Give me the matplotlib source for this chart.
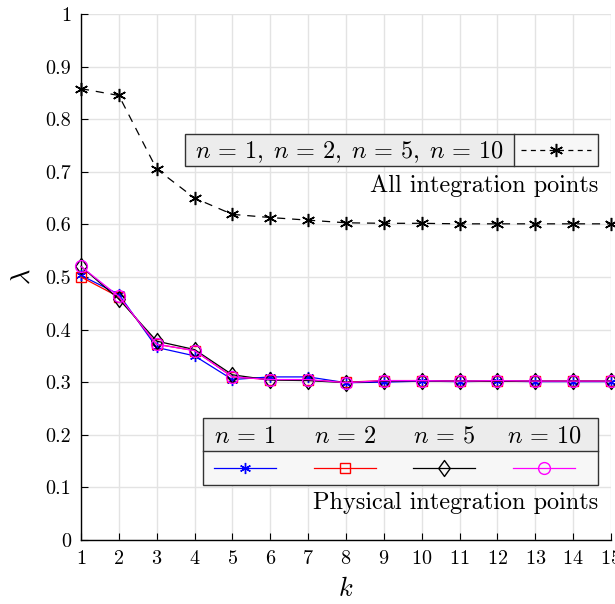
import numpy as np
import matplotlib
matplotlib.use('Agg')
import matplotlib.pyplot as plt
from matplotlib.patches import Rectangle
from matplotlib.lines import Line2D
from matplotlib.path import Path

plt.rcParams['font.family'] = 'serif'
plt.rcParams['font.serif'] = ['cmr10']
plt.rcParams['mathtext.fontset'] = 'cm'
plt.rcParams['axes.formatter.use_mathtext'] = True

# data
k = np.arange(1, 16)
lam_all = [0.858, 0.845, 0.705, 0.650, 0.619, 0.613, 0.608, 0.603, 0.602, 0.602,
           0.601, 0.601, 0.601, 0.601, 0.601]
lam_n1 = [0.503, 0.467, 0.366, 0.350, 0.305, 0.310, 0.310, 0.299, 0.300, 0.302,
          0.301, 0.302, 0.301, 0.301, 0.301]
lam_n2 = [0.500, 0.462, 0.372, 0.360, 0.310, 0.305, 0.304, 0.300, 0.303, 0.303,
          0.302, 0.302, 0.302, 0.302, 0.302]
lam_n5 = [0.520, 0.458, 0.378, 0.362, 0.314, 0.304, 0.303, 0.299, 0.302, 0.303,
          0.302, 0.302, 0.302, 0.302, 0.302]
lam_n10 = [0.520, 0.463, 0.372, 0.360, 0.310, 0.305, 0.305, 0.299, 0.303, 0.303,
           0.302, 0.303, 0.302, 0.302, 0.302]
n_labels = [r'$n\,=\,1$', r'$n\,=\,2$', r'$n\,=\,5$', r'$n\,=\,10$']

asterisk = (6, 2, 0)
diamond = Path([(0, 1), (0.72, 0), (0, -1), (-0.72, 0), (0, 1)],
               [Path.MOVETO, Path.LINETO, Path.LINETO, Path.LINETO, Path.CLOSEPOLY])
styles = [dict(color='blue', marker=asterisk, ms=8),
          dict(color='red', marker='s', ms=6.5, mfc='none'),
          dict(color='black', marker=diamond, ms=11.5, mfc='none'),
          dict(color='magenta', marker='o', ms=8.5, mfc='none')]

fig = plt.figure(figsize=(6.15, 6.04), dpi=100)
ax = fig.add_axes([0.1317, 0.106, 0.8618, 0.8709])

ax.plot(k, lam_all, color='black', ls=(0, (6.5, 5.5)), lw=0.9, marker=asterisk, ms=9.5,
        mew=1.1, clip_on=False, zorder=3)
for y, st in zip([lam_n1, lam_n2, lam_n5, lam_n10], styles):
    ax.plot(k, y, lw=0.9, mew=1.0, clip_on=False, zorder=3, **st)

ax.set_xlim(1, 15)
ax.set_ylim(0, 1)
ax.set_xticks(k)
ax.set_yticks(np.arange(0, 1.01, 0.1))
ax.set_yticklabels(['0', '0.1', '0.2', '0.3', '0.4', '0.5', '0.6', '0.7', '0.8', '0.9', '1'])
ax.grid(True, color='#e3e3e3', lw=1)
ax.set_axisbelow(True)
for s in ['top', 'right']:
    ax.spines[s].set_visible(False)
ax.spines['left'].set_linewidth(1.0)
ax.spines['bottom'].set_linewidth(1.0)
ax.tick_params(direction='in', length=5, width=0.8, labelsize=14.5, pad=7)
ax.set_xlabel('$k$', fontsize=19, labelpad=7)
ax.set_ylabel(r'$\lambda$', fontsize=19, labelpad=8)

T = ax.transAxes

def fx(px):
    return (px - 81) / 530.0

def fy(py):
    return (540 - py) / 526.0

# legend 1: all integration points
x0, x1, xd = fx(185), fx(598), fx(514)
ya, yb = fy(166), fy(134)
ax.add_patch(Rectangle((x0, ya), xd - x0, yb - ya, transform=T, fc='#ececec',
                       ec='none', zorder=5, clip_on=False))
ax.add_patch(Rectangle((xd, ya), x1 - xd, yb - ya, transform=T, fc='#f7f7f7',
                       ec='none', zorder=5, clip_on=False))
ax.add_patch(Rectangle((x0, ya), x1 - x0, yb - ya, transform=T, fc='none',
                       ec='#333333', lw=1.0, zorder=6, clip_on=False))
ax.add_line(Line2D([xd, xd], [ya, yb], transform=T, color='#333333', lw=1.0, zorder=6))
ax.text((x0 + xd) / 2, (ya + yb) / 2 - 0.004,
        r'$n\,=\,1,\;n\,=\,2,\;n\,=\,5,\;n\,=\,10$', transform=T,
        ha='center', va='center', fontsize=17.5, zorder=7)
ax.add_line(Line2D([fx(521), fx(591)], [(ya + yb) / 2] * 2, transform=T, color='black',
                   ls=(0, (4, 3.5)), lw=0.9, zorder=7))
ax.add_line(Line2D([fx(556)], [(ya + yb) / 2], transform=T, color='black',
                   marker=asterisk, ms=9.5, mew=1.1, zorder=7))
ax.text(x1, fy(186), 'All integration points', transform=T, ha='right', va='center',
        fontsize=17.5, zorder=7)

# legend 2: physical integration points
x0, x1 = fx(203), fx(598)
yt, ym, yb2 = fy(418), fy(451), fy(485)
ax.add_patch(Rectangle((x0, ym), x1 - x0, yt - ym, transform=T, fc='#ececec',
                       ec='none', zorder=5, clip_on=False))
ax.add_patch(Rectangle((x0, yb2), x1 - x0, ym - yb2, transform=T, fc='#f7f7f7',
                       ec='none', zorder=5, clip_on=False))
ax.add_patch(Rectangle((x0, yb2), x1 - x0, yt - yb2, transform=T, fc='none',
                       ec='#333333', lw=1.0, zorder=6, clip_on=False))
ax.add_line(Line2D([x0, x1], [ym, ym], transform=T, color='#333333', lw=1.0, zorder=6))
centers = [245, 345, 444, 544]
for c, lab, st in zip(centers, n_labels, styles):
    ax.text(fx(c), (yt + ym) / 2 - 0.004, lab, transform=T, ha='center', va='center',
            fontsize=17.5, zorder=7)
    ax.add_line(Line2D([fx(c - 31), fx(c + 31)], [(ym + yb2) / 2] * 2, transform=T,
                       color=st['color'], lw=0.9, zorder=7))
    ax.add_line(Line2D([fx(c)], [(ym + yb2) / 2], transform=T, mew=1.0, zorder=7,
                       **st))
ax.text(x1, fy(503), 'Physical integration points', transform=T, ha='right',
        va='center', fontsize=17.5, zorder=7)

fig.savefig('out.png', dpi=100)
